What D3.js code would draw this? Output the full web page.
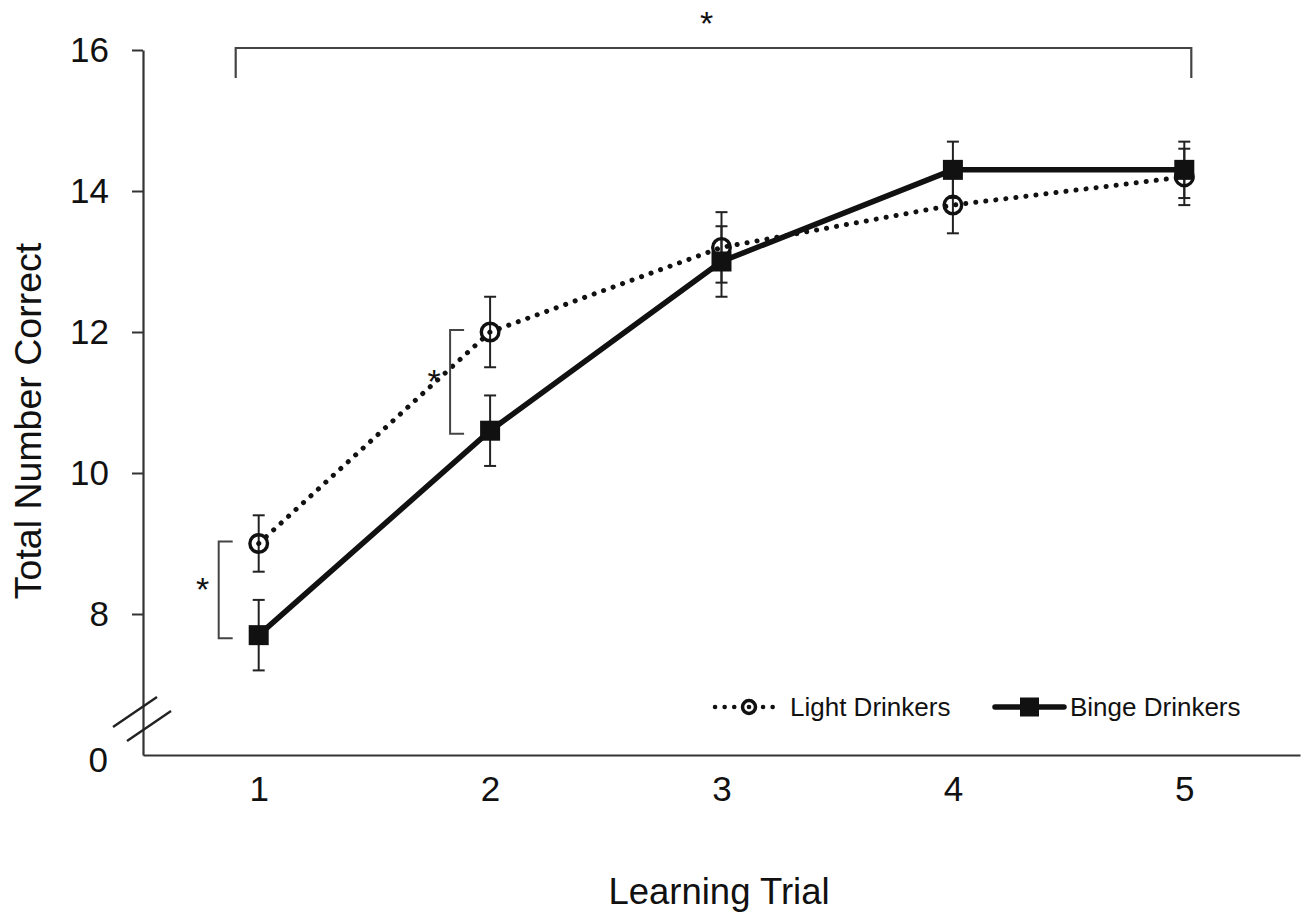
<!DOCTYPE html>
<meta charset="utf-8">
<script src="https://d3js.org/d3.v7.min.js"></script>
<style>
  body { margin: 0; background: #fff; }
  text { font-family: "Liberation Sans", Arial, sans-serif; fill: #111; }
</style>
<div id="chart"></div>
<script>

    // values
    var trials = [1, 2, 3, 4, 5];
    var lightMean = [9.0, 12.0, 13.2, 13.8, 14.2];
    var lightErr = [0.4, 0.5, 0.5, 0.4, 0.4];
    var bingeMean = [7.7, 10.6, 13.0, 14.3, 14.3];
    var bingeErr = [0.5, 0.5, 0.5, 0.4, 0.4];
    var yTicks = [8, 10, 12, 14, 16];
    var sigTrials = [1, 2];          // per-trial significance brackets
    var overallSig = [1, 5];         // bracket across trials

    var width = 1306, height = 915;

    var svg = d3.select("#chart")
      .append("svg")
        .attr("width", width)
        .attr("height", height);

    var x = d3.scaleLinear()
      .domain([0.5, 5.5])
      .range([143, 1300]);

    var y = d3.scaleLinear()
      .domain([6, 16])
      .range([755, 50]);

    var axisColor = "#333";

    // x axis
    var gx = svg.append("g")
      .attr("transform", "translate(0," + y(6) + ")")
      .call(d3.axisBottom(x).tickValues(trials).tickSize(0).tickPadding(21).tickFormat(d3.format("d")));
    gx.select(".domain").attr("stroke", axisColor).attr("stroke-width", 2.2);
    gx.selectAll("text").style("font-size", "35px").attr("fill", "#111");

    // y axis
    var gy = svg.append("g")
      .attr("transform", "translate(" + x(0.5) + ",0)")
      .call(d3.axisLeft(y).tickValues(yTicks).tickSize(11).tickSizeOuter(0).tickPadding(23));
    gy.select(".domain").attr("stroke", axisColor).attr("stroke-width", 2.2);
    gy.selectAll(".tick line").attr("stroke", axisColor).attr("stroke-width", 2);
    gy.selectAll("text").style("font-size", "35px").attr("fill", "#111");

    // broken-axis zero label and slashes
    svg.append("text")
      .attr("x", 108)
      .attr("y", y(6) + 5)
      .attr("dy", "0.35em")
      .attr("text-anchor", "end")
      .style("font-size", "35px")
      .text("0");

    [0, 1].forEach(function(i) {
      var cx = x(0.5) + (i === 0 ? -8 : 6), cy = (i === 0 ? 712 : 726);
      svg.append("line")
        .attr("x1", cx - 22).attr("y1", cy + 15)
        .attr("x2", cx + 22).attr("y2", cy - 15)
        .attr("stroke", "#222").attr("stroke-width", 2.4);
    });

    // axis titles
    svg.append("text")
      .attr("x", 719)
      .attr("y", 904)
      .attr("text-anchor", "middle")
      .style("font-size", "36.5px")
      .text("Learning Trial");

    svg.append("text")
      .attr("transform", "translate(41,421) rotate(-90)")
      .attr("text-anchor", "middle")
      .style("font-size", "37.5px")
      .text("Total Number Correct");

    var light = trials.map(function(t, i) { return {t: t, m: lightMean[i], e: lightErr[i]}; });
    var binge = trials.map(function(t, i) { return {t: t, m: bingeMean[i], e: bingeErr[i]}; });

    var line = d3.line()
      .x(function(d) { return x(d.t); })
      .y(function(d) { return y(d.m); });

    // error bars
    function errorBars(data) {
      var g = svg.append("g").attr("stroke", "#222").attr("stroke-width", 2);
      data.forEach(function(d) {
        var cx = x(d.t);
        g.append("line").attr("x1", cx).attr("x2", cx)
          .attr("y1", y(d.m + d.e)).attr("y2", y(d.m - d.e));
        [d.m + d.e, d.m - d.e].forEach(function(v) {
          g.append("line").attr("x1", cx - 6).attr("x2", cx + 6)
            .attr("y1", y(v)).attr("y2", y(v));
        });
      });
    }
    errorBars(light);
    errorBars(binge);

    // light drinkers: dotted line, open circles
    svg.append("path")
      .datum(light)
      .attr("d", line)
      .attr("fill", "none")
      .attr("stroke", "#111")
      .attr("stroke-width", 5)
      .attr("stroke-linecap", "round")
      .attr("stroke-dasharray", "0.1 10");

    svg.append("g")
      .selectAll("circle")
      .data(light)
      .enter()
      .append("circle")
        .attr("cx", function(d) { return x(d.t); })
        .attr("cy", function(d) { return y(d.m); })
        .attr("r", 8.8)
        .attr("fill", "none")
        .attr("stroke", "#111")
        .attr("stroke-width", 3.4);

    // binge drinkers: thick solid line, filled squares
    svg.append("path")
      .datum(binge)
      .attr("d", line)
      .attr("fill", "none")
      .attr("stroke", "#111")
      .attr("stroke-width", 5.5);

    svg.append("g")
      .selectAll("rect")
      .data(binge)
      .enter()
      .append("rect")
        .attr("x", function(d) { return x(d.t) - 10; })
        .attr("y", function(d) { return y(d.m) - 10; })
        .attr("width", 20)
        .attr("height", 20)
        .attr("fill", "#111");

    // significance brackets at single trials
    sigTrials.forEach(function(t) {
      var i = trials.indexOf(t);
      var top = y(lightMean[i]) - 2, bot = y(bingeMean[i]) + 3;
      var bx = x(t) - 40;
      svg.append("path")
        .attr("d", "M" + (bx + 14) + "," + top + "H" + bx + "V" + bot + "H" + (bx + 14))
        .attr("fill", "none")
        .attr("stroke", "#444")
        .attr("stroke-width", 2);
      svg.append("text")
        .attr("x", bx - 16)
        .attr("y", (top + bot) / 2 + 11)
        .attr("text-anchor", "middle")
        .style("font-size", "34px")
        .text("*");
    });

    // overall bracket across trials
    var ox1 = x(overallSig[0]) - 23, ox2 = x(overallSig[1]) + 7;
    svg.append("path")
      .attr("d", "M" + ox1 + ",78V48H" + ox2 + "V78")
      .attr("fill", "none")
      .attr("stroke", "#444")
      .attr("stroke-width", 2.2);
    svg.append("text")
      .attr("x", (ox1 + ox2) / 2 - 7)
      .attr("y", 35)
      .attr("text-anchor", "middle")
      .style("font-size", "34px")
      .text("*");

    // legend
    var legend = svg.append("g").attr("transform", "translate(0,707)");
    legend.append("line")
      .attr("x1", 715).attr("x2", 782).attr("y1", 0).attr("y2", 0)
      .attr("stroke", "#111").attr("stroke-width", 4.5)
      .attr("stroke-linecap", "round").attr("stroke-dasharray", "0.1 9.5");
    legend.append("circle")
      .attr("cx", 749).attr("cy", 0).attr("r", 6.5)
      .attr("fill", "#fff").attr("stroke", "#111").attr("stroke-width", 3.5);
    legend.append("circle")
      .attr("cx", 749).attr("cy", 0).attr("r", 2.3).attr("fill", "#111");
    legend.append("text")
      .attr("x", 790).attr("y", 0).attr("dy", "0.36em")
      .style("font-size", "26px")
      .text("Light Drinkers");

    legend.append("line")
      .attr("x1", 995).attr("x2", 1064).attr("y1", 0).attr("y2", 0)
      .attr("stroke", "#111").attr("stroke-width", 5.5)
      .attr("stroke-linecap", "round");
    legend.append("rect")
      .attr("x", 1020).attr("y", -9.5).attr("width", 19).attr("height", 19)
      .attr("fill", "#111");
    legend.append("text")
      .attr("x", 1070).attr("y", 0).attr("dy", "0.36em")
      .style("font-size", "26px")
      .text("Binge Drinkers");

</script>
